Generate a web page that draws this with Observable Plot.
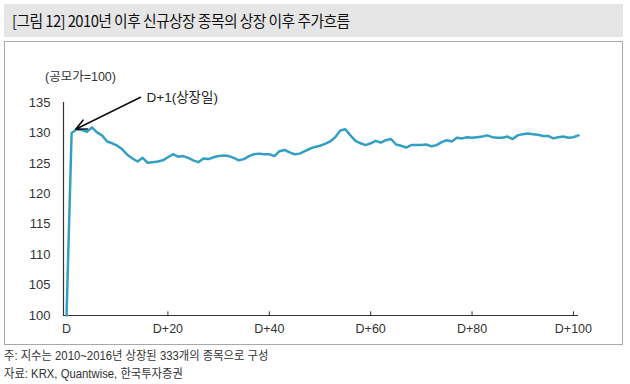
<!DOCTYPE html>
<html><head><meta charset="utf-8">
<script src="https://cdn.jsdelivr.net/npm/d3@7"></script>
<script src="https://cdn.jsdelivr.net/npm/@observablehq/plot@0.6"></script>
<style>
html,body{margin:0;padding:0;background:#fff;}
body{width:630px;height:384px;position:relative;overflow:hidden;font-family:"Liberation Sans","Noto Sans CJK KR",sans-serif;color:#222;}
#band{position:absolute;left:4px;top:4px;width:619px;height:33px;background:#e6e6e6;}
#title{position:absolute;left:12px;top:9px;font-size:15.5px;white-space:nowrap;font-family:"Noto Sans CJK KR",sans-serif;letter-spacing:-0.6px;color:#111;transform:scaleX(0.955);transform-origin:left top;}
#frame{position:absolute;left:4px;top:41px;width:617px;height:302px;border:1.5px solid #a8a8a8;}
#unit{position:absolute;left:45px;top:66px;font-size:12.5px;white-space:nowrap;color:#333;}
#chart{position:absolute;left:0;top:40px;}
.note{position:absolute;left:4px;font-size:12.3px;white-space:nowrap;color:#333;transform:scaleX(0.92);transform-origin:left top;}
</style></head>
<body>
<div id="band"></div>
<div id="title">[그림 12] 2010년 이후 신규상장 종목의 상장 이후 주가흐름</div>
<div id="frame"></div>
<div id="unit">(공모가=100)</div>
<div id="chart"></div>
<div class="note" style="top:346px">주: 지수는 2010~2016년 상장된 333개의 종목으로 구성</div>
<div class="note" style="top:364px">자료: KRX, Quantwise, 한국투자증권</div>
<script>
// trading day after listing (0 = offer price)
const days = d3.range(0, 102);
// price index (offer price = 100)
const values = [
100,130.0,130.6,130.5,130.2,130.9,130.1,129.6,128.6,128.3,
127.9,127.3,126.4,125.8,125.3,125.9,125.1,125.2,125.3,125.5,
126.0,126.5,126.1,126.2,125.9,125.5,125.2,125.8,125.7,126.0,
126.2,126.3,126.2,125.9,125.5,125.7,126.2,126.5,126.6,126.5,
126.5,126.2,127.0,127.2,126.8,126.5,126.6,127.0,127.4,127.7,
127.9,128.2,128.6,129.3,130.4,130.6,129.6,128.7,128.3,128.0,
128.3,128.7,128.4,128.8,129.0,128.1,127.9,127.6,128.0,128.0,
128.0,128.1,127.8,128.0,128.5,128.8,128.6,129.2,129.1,129.3,
129.2,129.3,129.4,129.6,129.3,129.2,129.2,129.4,129.0,129.6,
129.8,129.9,129.8,129.7,129.5,129.5,129.1,129.3,129.4,129.2,
129.3,129.6
];
const xTicks = [0, 20, 40, 60, 80, 100];
const xTickLabels = ["D", "D+20", "D+40", "D+60", "D+80", "D+100"];
const yTicks = [100, 105, 110, 115, 120, 125, 130, 135];
const annotation = [{label: "D+1(상장일)", fromDay: 14.6, fromValue: 135.85, toDay: 1.8, toValue: 130.6}];

const data = days.map((d, i) => ({day: d, value: values[i]}));

const chart = Plot.plot({
  width: 630,
  height: 305,
  marginLeft: 63,
  marginRight: 52,
  marginTop: 62,
  marginBottom: 30,
  style: {fontFamily: '"Liberation Sans","Noto Sans CJK KR",sans-serif', background: "transparent", color: "#333"},
  x: {domain: [-0.6, 101], ticks: xTicks, tickFormat: (d) => xTickLabels[xTicks.indexOf(d)], tickSize: 0, tickPadding: 9, label: null},
  y: {domain: [100, 135], ticks: yTicks, tickSize: 0, tickPadding: 13, label: null},
  marks: [
    Plot.axisX({ticks: xTicks, tickFormat: (d) => xTickLabels[xTicks.indexOf(d)], tickSize: 0, tickPadding: 9, fontSize: 12.5, label: null}),
    Plot.axisY({ticks: yTicks, tickSize: 0, tickPadding: 13, fontSize: 13, label: null}),
    Plot.ruleX(xTicks, {y1: 100, y2: 100.6, stroke: "#333", strokeWidth: 1}),
    Plot.ruleY([100], {x1: -0.6, x2: 101, stroke: "#333", strokeWidth: 1.2}),
    Plot.ruleX([-0.6], {y1: 100, y2: 135, stroke: "#333", strokeWidth: 1.2}),
    Plot.line(data, {x: "day", y: "value", stroke: "#33a0c2", strokeWidth: 2.5, curve: "linear"}),
    Plot.arrow(annotation, {x1: "fromDay", y1: "fromValue", x2: "toDay", y2: "toValue", stroke: "#111", strokeWidth: 1.6, headLength: 11, headAngle: 50}),
    Plot.text(annotation, {x: "fromDay", y: "fromValue", text: "label", textAnchor: "start", dx: 6, fontSize: 13.5, fill: "#222"})
  ]
});
document.getElementById("chart").appendChild(chart);
</script>
</body></html>
